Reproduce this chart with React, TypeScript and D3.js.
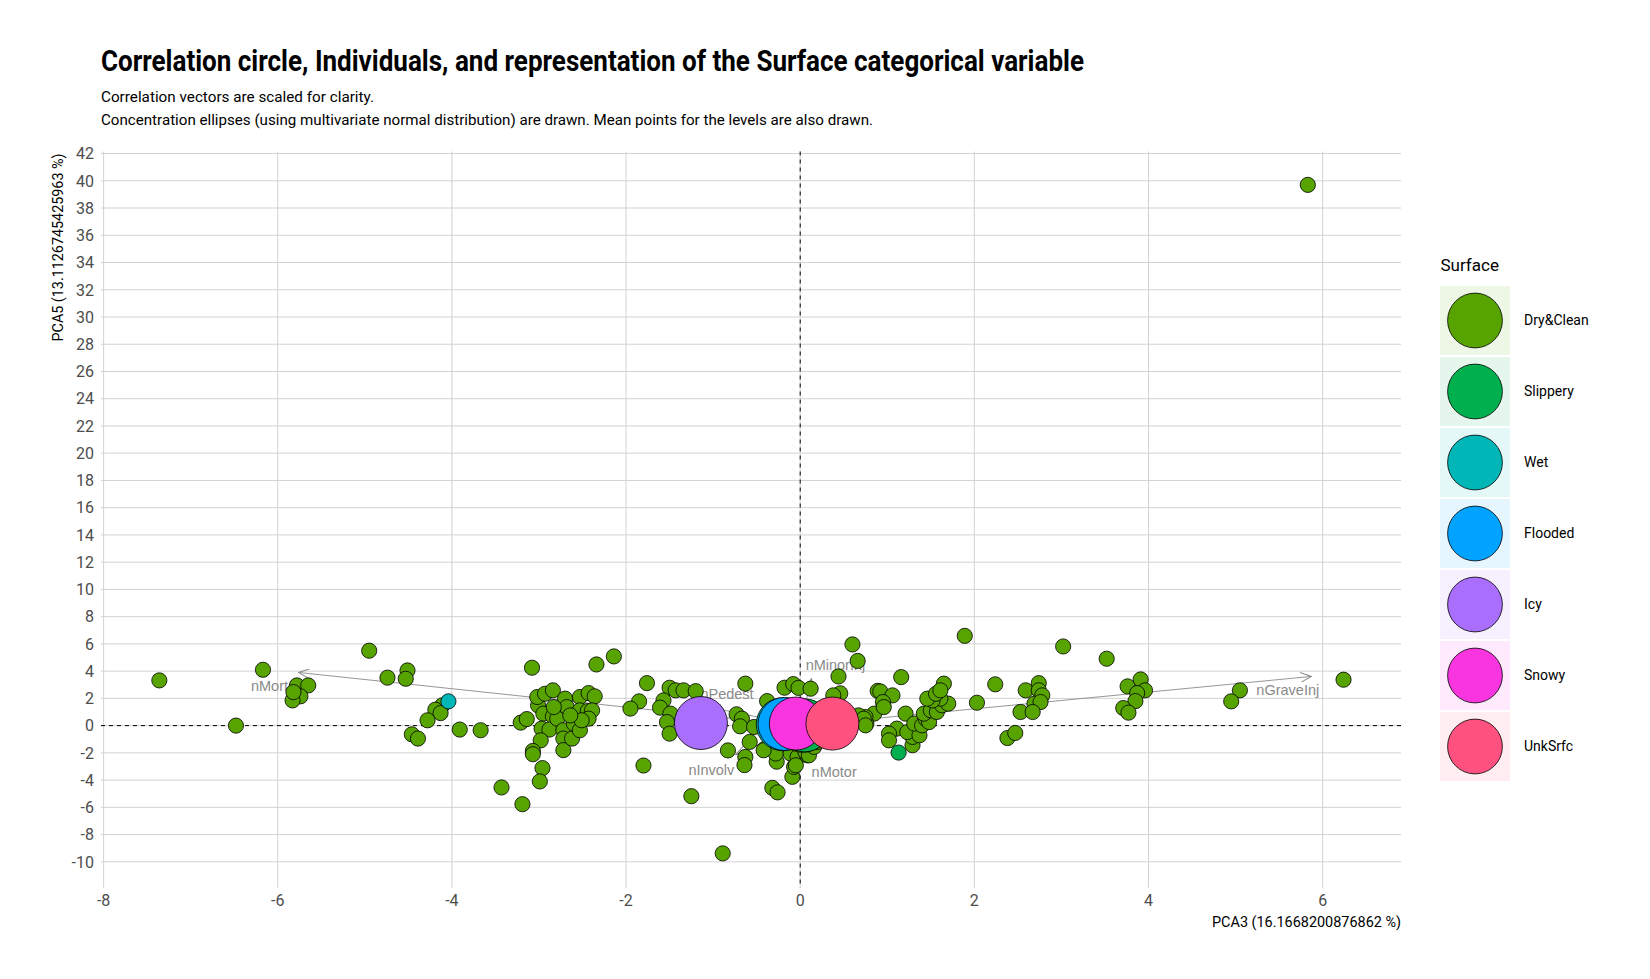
import { useEffect } from "react";
import * as d3 from "d3";

// Surface levels and their colours
const surfaces = ["Dry&Clean", "Slippery", "Wet", "Flooded", "Icy", "Snowy", "UnkSrfc"];
const surfaceColors = ["#57a300", "#00b04e", "#00b6b6", "#00a3ff", "#a96efb", "#f935df", "#fe517f"];

// individuals (PCA3, PCA5)
const dryCleanPoints: [number, number][] = [
  [-7.36, 3.32], [-6.48, 0.0], [-6.17, 4.1], [-4.95, 5.5], [-4.74, 3.52], [-4.51, 4.05], [-4.53, 3.44],
  [-5.78, 2.95], [-5.65, 2.95], [-5.74, 2.15], [-5.83, 1.85], [-5.82, 2.46],
  [-4.11, 1.49], [-4.19, 1.17], [-4.13, 0.92], [-4.28, 0.39], [-4.46, -0.64], [-4.39, -0.95],
  [-3.91, -0.29], [-3.67, -0.34],
  [-3.08, 4.25], [-2.34, 4.49], [-2.14, 5.08],
  [-3.21, 0.22], [-3.14, 0.48], [-3.01, 1.49], [-3.02, 2.1], [-2.93, 2.34], [-2.84, 2.59],
  [-2.95, 0.88], [-2.84, 0.68], [-2.97, -0.22], [-2.88, -0.29], [-2.98, -1.08], [-3.07, -1.86],
  [-3.07, -2.1], [-2.96, -3.12], [-2.99, -4.1], [-2.76, 1.12], [-2.7, 1.98], [-2.68, 1.36],
  [-2.79, 0.51], [-2.72, -0.34], [-2.72, -0.95], [-2.72, -1.8], [-2.62, -0.95], [-2.6, 0.15],
  [-2.53, -0.34], [-2.53, 2.1], [-2.43, 2.39], [-2.36, 2.15], [-2.53, 1.12], [-2.44, 1.07],
  [-2.39, 1.12], [-2.43, 0.51], [-2.51, 0.39], [-2.64, 0.75], [-2.83, 1.36],
  [-3.43, -4.54], [-3.19, -5.77],
  [-1.76, 3.12], [-1.85, 1.78], [-1.95, 1.25], [-1.8, -2.93],
  [-1.5, 2.78], [-1.57, 1.85], [-1.61, 1.32], [-1.43, 2.59], [-1.34, 2.59], [-1.2, 2.53],
  [-1.49, 0.88], [-1.53, 0.26], [-1.5, -0.59],
  [-1.25, -5.18], [-0.89, -9.38],
  [-0.63, 3.08], [-0.73, 0.83], [-0.67, 0.51], [-0.69, -0.05], [-0.53, -0.1], [-0.38, 1.8],
  [-0.58, -1.2], [-0.83, -1.82], [-0.63, -2.3], [-0.64, -2.9], [-0.41, -1.72], [-0.27, -2.65],
  [-0.28, -2.05], [-0.09, -3.76], [-0.32, -4.57], [-0.26, -4.9], [-0.07, -3.03], [-0.42, -1.81],
  [-0.18, 2.78], [-0.08, 3.05], [-0.02, 2.77], [0.12, 2.71], [0.44, 3.61], [0.6, 5.96],
  [0.66, 4.75], [0.46, 2.37], [0.38, 2.22], [0.89, 2.55], [0.85, 0.88], [0.76, 0.15],
  [0.75, 0.63], [0.67, 0.75],
  [-0.11, -2.05], [-0.03, -2.3], [0.08, -2.18], [-0.05, -2.91], [0.06, -1.93], [0.1, -2.18],
  [0.16, -1.56], [0.2, -1.2],
  [1.16, 3.56], [1.65, 3.08], [0.92, 2.51], [1.06, 2.22], [0.95, 1.73], [0.96, 1.36],
  [0.73, 0.51], [0.75, 0.02], [1.21, 0.88], [1.11, -0.22], [1.02, -0.59], [1.02, -1.08],
  [1.29, -1.44], [1.29, -0.83], [1.23, -0.47], [1.37, -0.71], [1.31, 0.15], [1.4, 0.02],
  [1.44, 0.51], [1.48, 0.26], [1.42, 0.88], [1.5, 1.12], [1.57, 1.0], [1.63, 1.49],
  [1.7, 1.61], [1.61, 1.98], [1.52, 1.85], [1.46, 1.98], [1.56, 2.34], [1.61, 2.59],
  [2.03, 1.68], [2.24, 3.03], [2.38, -0.91], [2.47, -0.54], [1.89, 6.59], [3.02, 5.81], [3.52, 4.91],
  [2.59, 2.59], [2.74, 3.12], [2.74, 2.59], [2.78, 2.22], [2.69, 1.61], [2.76, 1.73],
  [2.53, 1.0], [2.67, 1.0],
  [3.76, 2.88], [3.91, 3.39], [3.96, 2.59], [3.87, 2.39], [3.85, 1.8], [3.71, 1.29], [3.77, 0.95],
  [5.05, 2.59], [4.95, 1.78], [6.24, 3.37], [5.83, 39.7],
];
const slipperyPoints: [number, number][] = [[1.13, -1.98]];
const wetPoints: [number, number][] = [[-4.04, 1.78]];

// mean point of each level (same order as surfaces)
const meanX = [0.03, 0.05, -0.2, -0.18, -1.14, -0.05, 0.37];
const meanY = [-0.02, 0.02, 0.1, 0.12, 0.19, 0.15, 0.15];

// correlation vectors (scaled)
const vectorNames = ["nGraveInj", "nMortal", "nMinorInj", "nPedest", "nInvolv", "nMotor"];
const vectorTipX = [5.87, -5.76, 0.13, -1.05, -0.74, 0.12];
const vectorTipY = [3.61, 3.9, 3.44, 1.36, -2.13, -2.2];
const vectorLabelX = [5.6, -6.03, 0.405, -0.84, -1.02, 0.39];
const vectorLabelY = [2.59, 2.88, 4.47, 2.29, -3.27, -3.4];

const xTicks = [-8, -6, -4, -2, 0, 2, 4, 6];
const yTicks = d3.range(-10, 43, 2);

const W = 1650;
const H = 979;
const margin = { left: 101, right: 1401, top: 151.5, bottom: 887.7 };
const FONT = "Roboto, 'Noto Sans', sans-serif";

export default function App() {
  useEffect(() => {
    document.body.style.margin = "0";
  }, []);

  const x = d3.scaleLinear().domain([-8.03, 6.9]).range([margin.left, margin.right]);
  const y = d3.scaleLinear().domain([-11.9, 42.15]).range([margin.bottom, margin.top]);

  const individuals = [
    ...dryCleanPoints.map((p) => ({ p, c: surfaceColors[0] })),
    ...slipperyPoints.map((p) => ({ p, c: surfaceColors[1] })),
    ...wetPoints.map((p) => ({ p, c: surfaceColors[2] })),
  ];

  return (
    <svg width={W} height={H} style={{ display: "block", background: "#fff" }}>
      <defs>
        <marker id="arr" viewBox="0 0 12 10" refX="11" refY="5" markerWidth="12" markerHeight="10"
          markerUnits="userSpaceOnUse" orient="auto">
          <path d="M0,0 L11,5 L0,10" fill="none" stroke="#8a8a8a" strokeWidth={1} />
        </marker>
      </defs>

      {/* titles */}
      <text x={101} y={70.5} fontFamily={FONT} fontWeight="bold" fontSize={29} textLength={983}
        lengthAdjust="spacingAndGlyphs" fill="#000">
        Correlation circle, Individuals, and representation of the Surface categorical variable
      </text>
      <text x={101} y={101.5} fontFamily={FONT} fontSize={15} textLength={273} lengthAdjust="spacingAndGlyphs">
        Correlation vectors are scaled for clarity.
      </text>
      <text x={101} y={124.5} fontFamily={FONT} fontSize={15} textLength={772} lengthAdjust="spacingAndGlyphs">
        Concentration ellipses (using multivariate normal distribution) are drawn. Mean points for the levels are also drawn.
      </text>

      {/* grid */}
      <g stroke="#d2d2d2" strokeWidth={1}>
        {yTicks.map((t) => (
          <line key={"gy" + t} x1={margin.left} x2={margin.right} y1={y(t)} y2={y(t)} />
        ))}
        {xTicks.map((t) => (
          <line key={"gx" + t} x1={x(t)} x2={x(t)} y1={margin.top} y2={margin.bottom} />
        ))}
      </g>
      <line x1={margin.left} x2={margin.right} y1={y(0)} y2={y(0)} stroke="#000" strokeDasharray="4,4" />
      <line x1={x(0)} x2={x(0)} y1={margin.top} y2={margin.bottom} stroke="#000" strokeDasharray="4,4" />

      {/* axes labels */}
      <g fontFamily={FONT} fontSize={16} fill="#4d4d4d">
        {yTicks.map((t) => (
          <text key={"ty" + t} x={94} y={y(t)} dy="0.36em" textAnchor="end">{t}</text>
        ))}
        {xTicks.map((t) => (
          <text key={"tx" + t} x={x(t)} y={906} textAnchor="middle">{t}</text>
        ))}
      </g>
      <text x={margin.right} y={927} textAnchor="end" fontFamily={FONT} fontSize={14} textLength={189}
        lengthAdjust="spacingAndGlyphs">PCA3 (16.1668200876862 %)</text>
      <text transform={`translate(63,${margin.top + 2}) rotate(-90)`} textAnchor="end" fontFamily={FONT}
        fontSize={14} textLength={188} lengthAdjust="spacingAndGlyphs">PCA5 (13.1126745425963 %)</text>

      {/* correlation vectors */}
      <g>
        {vectorNames.map((n, i) => (
          <g key={n}>
            <line x1={x(0)} y1={y(0)} x2={x(vectorTipX[i])} y2={y(vectorTipY[i])} stroke="#8a8a8a"
              strokeWidth={0.9} markerEnd="url(#arr)" />
            <text x={x(vectorLabelX[i])} y={y(vectorLabelY[i])} dy="0.35em" textAnchor="middle"
              fontFamily="'Liberation Sans', Arial, sans-serif" fontSize={14.5} fill="#8a8a8a">{n}</text>
          </g>
        ))}
      </g>

      {/* individuals */}
      <g stroke="#000" strokeWidth={0.8}>
        {individuals.map((d, i) => (
          <circle key={i} cx={x(d.p[0])} cy={y(d.p[1])} r={7.6} fill={d.c} />
        ))}
      </g>

      {/* mean points */}
      <g stroke="#000" strokeWidth={0.8}>
        {surfaces.map((s, i) => (
          <circle key={s} cx={x(meanX[i])} cy={y(meanY[i])} r={26.5} fill={surfaceColors[i]} />
        ))}
      </g>

      {/* legend */}
      <text x={1440.5} y={271.2} fontFamily={FONT} fontSize={17} fill="#000">Surface</text>
      {surfaces.map((s, i) => {
        const top = 286 + i * 71;
        return (
          <g key={"lg" + s}>
            <rect x={1440} y={top} width={70} height={69} fill={surfaceColors[i]} fillOpacity={0.1} />
            <circle cx={1475} cy={top + 34.5} r={27.4} fill={surfaceColors[i]} stroke="#000" strokeWidth={0.8} />
            <text x={1524} y={top + 34.5} dy="0.35em" fontFamily={FONT} fontSize={14} fill="#000">{s}</text>
          </g>
        );
      })}
    </svg>
  );
}
